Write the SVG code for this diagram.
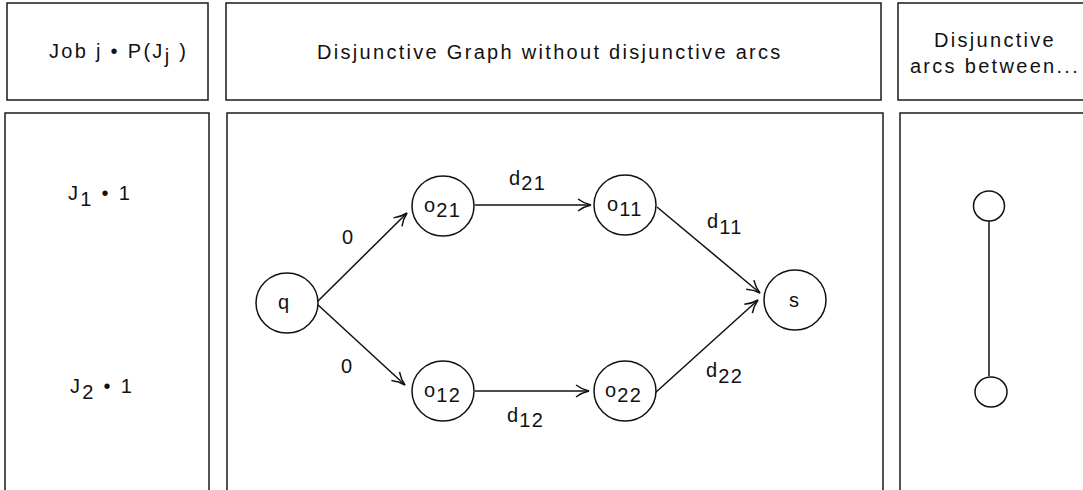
<svg xmlns="http://www.w3.org/2000/svg" width="1083" height="490" viewBox="0 0 1083 490">
  <style>
    .frame { fill: #fff; stroke: #1a1a1a; stroke-width: 1.5; }
    .node { fill: #fff; stroke: #111; stroke-width: 1.5; }
    .edge { fill: none; stroke: #111; stroke-width: 1.5; }
    .t { font-family: "Liberation Sans", Arial, sans-serif; font-size: 20px; letter-spacing: 2.3px; fill: #111; }
    .lbl { letter-spacing: 1.2px; }
    .mid { text-anchor: middle; }
  </style>
  <defs>
    <marker id="open" markerUnits="userSpaceOnUse" markerWidth="18" markerHeight="16" refX="14" refY="6.5" orient="auto" overflow="visible">
      <path d="M1,0.5 Q7,5 14,6.5 Q7,8 1,12.5" fill="none" stroke="#111" stroke-width="1.5"/>
    </marker>
  </defs>
  <rect width="1083" height="490" fill="#fff"/>

  <!-- column frames -->
  <g id="columns">
    <rect class="frame" x="7" y="3" width="201" height="97"/>
    <rect class="frame" x="226" y="3" width="655" height="97"/>
    <rect class="frame" x="898" y="3" width="195" height="97"/>
    <rect class="frame" x="5" y="113" width="204" height="400"/>
    <rect class="frame" x="227" y="113" width="656" height="400"/>
    <rect class="frame" x="900" y="113" width="195" height="400"/>
  </g>

  <!-- column headings -->
  <g id="headings">
    <text class="t" x="49" y="58">Job j • P(J<tspan dy="5">j</tspan><tspan dy="-5"> )</tspan></text>
    <text class="t" x="317" y="59">Disjunctive Graph without disjunctive arcs</text>
    <text class="t mid" x="995" y="47">Disjunctive</text>
    <text class="t mid" x="995" y="73">arcs between...</text>
  </g>

  <!-- job rows -->
  <g id="jobs">
    <text class="t" x="68" y="200">J<tspan dy="6">1</tspan><tspan dy="-6"> • 1</tspan></text>
    <text class="t" x="70" y="393">J<tspan dy="6">2</tspan><tspan dy="-6"> • 1</tspan></text>
  </g>

  <!-- connectors -->
  <g id="connectors">
    <line class="edge" x1="317" y1="302" x2="407" y2="213" marker-end="url(#open)"/>
    <line class="edge" x1="317" y1="304" x2="405" y2="385" marker-end="url(#open)"/>
    <line class="edge" x1="475" y1="205" x2="591" y2="205" marker-end="url(#open)"/>
    <line class="edge" x1="475" y1="391" x2="589" y2="391" marker-end="url(#open)"/>
    <line class="edge" x1="657" y1="207" x2="760" y2="293" marker-end="url(#open)"/>
    <line class="edge" x1="655" y1="393" x2="758" y2="300" marker-end="url(#open)"/>
    <line class="edge" x1="989" y1="221" x2="989" y2="376"/>
  </g>

  <!-- connector labels -->
  <g id="connector-labels">
    <text class="t lbl" x="342" y="244">0</text>
    <text class="t lbl" x="341" y="373">0</text>
    <text class="t lbl" x="509" y="185">d<tspan dy="5">21</tspan></text>
    <text class="t lbl" x="707" y="228">d<tspan dy="6">11</tspan></text>
    <text class="t lbl" x="507" y="422">d<tspan dy="5">12</tspan></text>
    <text class="t lbl" x="706" y="377">d<tspan dy="6">22</tspan></text>
  </g>

  <!-- graph nodes -->
  <g id="node-q">
    <ellipse class="node" cx="287" cy="303" rx="31" ry="30"/>
    <text class="t lbl" x="278" y="309">q</text>
  </g>
  <g id="node-o21">
    <ellipse class="node" cx="443" cy="206" rx="31" ry="30"/>
    <text class="t lbl" x="424" y="212">o<tspan dy="5">21</tspan></text>
  </g>
  <g id="node-o11">
    <ellipse class="node" cx="625" cy="205" rx="31" ry="30"/>
    <text class="t lbl" x="607" y="211">o<tspan dy="5">11</tspan></text>
  </g>
  <g id="node-s">
    <ellipse class="node" cx="795" cy="300" rx="31" ry="30"/>
    <text class="t lbl" x="789" y="307">s</text>
  </g>
  <g id="node-o12">
    <ellipse class="node" cx="443" cy="391" rx="31" ry="30"/>
    <text class="t lbl" x="424" y="397">o<tspan dy="5">12</tspan></text>
  </g>
  <g id="node-o22">
    <ellipse class="node" cx="625" cy="391" rx="31" ry="30"/>
    <text class="t lbl" x="605" y="397">o<tspan dy="5">22</tspan></text>
  </g>

  <!-- disjunctive pair -->
  <g id="node-pair-top">
    <ellipse class="node" cx="989" cy="206" rx="15.5" ry="15"/>
  </g>
  <g id="node-pair-bottom">
    <ellipse class="node" cx="991" cy="392" rx="16" ry="15"/>
  </g>
</svg>
